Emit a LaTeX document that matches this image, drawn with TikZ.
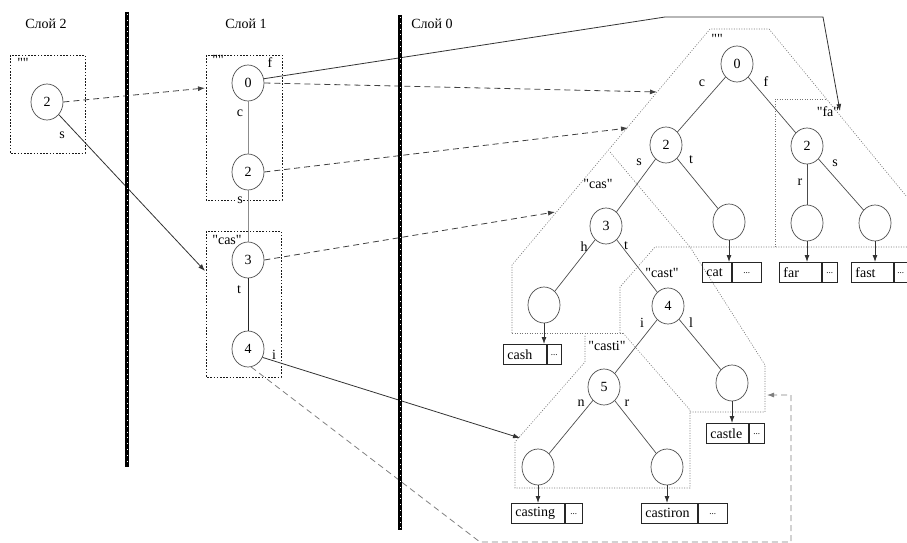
\documentclass[tikz,border=0pt]{standalone}
\usepackage{fontspec}
\setmainfont{Liberation Serif}[Ligatures=TeXOff]
\usetikzlibrary{arrows.meta,shapes.geometric}

\begin{document}
\begin{tikzpicture}[x=1pt,y=-1pt,
  every node/.style={font=\fontsize{14}{16}\selectfont},
  trie/.style={draw=black!70, line width=0.7pt, ellipse, minimum width=32pt,
               minimum height=36pt, inner sep=0pt},
  lbl/.style={inner sep=0pt},
  edge/.style={draw=black!70, line width=0.7pt},
  faint/.style={draw=black!45, line width=0.7pt},
  frame/.style={draw=black!90, line width=0.8pt, dash pattern=on 1.6pt off 1.6pt},
  region/.style={draw=black!55, line width=0.6pt, dash pattern=on 1pt off 1.5pt},
  ptr/.style={draw=black!75, line width=0.8pt, dash pattern=on 6pt off 4pt,
              -{Latex[length=7pt,width=5pt]}},
  back/.style={draw=black!50, line width=0.8pt, dash pattern=on 6pt off 4pt,
              -{Latex[length=7pt,width=5pt]}},
  link/.style={draw=black!80, line width=0.8pt, -{Latex[length=7pt,width=5pt]}},
  wcell/.style={draw=black!85, line width=0.8pt, minimum height=20pt, inner ysep=0pt,
                inner xsep=4pt, anchor=north west, align=left},
  dcell/.style={draw=black!85, line width=0.8pt, minimum height=20pt, inner sep=0pt,
                anchor=north west, font=\fontsize{9}{10}\selectfont},
  separator/.style={line width=4pt, black},
  sepdots/.style={line width=0.8pt, white, dash pattern=on 0.8pt off 5pt}
]
\useasboundingbox (0,0) rectangle (907,543);

% ---------- layer titles ----------
\node[lbl] (title2) at (46,24) {Слой 2};
\node[lbl] (title1) at (246,24) {Слой 1};
\node[lbl] (title0) at (432,24) {Слой 0};

% ---------- layer 2 ----------
\draw[frame] (10,55) rectangle (85,153);
\node[lbl] (q2) at (23,63) {""};
\node[trie] (a2) at (47,102) {2};
\node[lbl] (a2s) at (62,135) {s};

% ---------- layer 1 ----------
\draw[frame] (206,55) rectangle (282,200);
\draw[frame] (206,231) rectangle (281,377);
\node[trie] (b0) at (248,83) {0};
\node[trie] (b2) at (248,172) {2};
\node[trie] (b3) at (248,260) {3};
\node[trie] (b4) at (248,349) {4};
\draw[faint] (b0) -- (b2);
\draw[faint] (b2) -- (b3);
\draw[edge, draw=black!85] (b3) -- (b4);
\node[lbl] (q1) at (218,60) {""};
\node[lbl] (b0f) at (270,63) {f};
\node[lbl] (b0c) at (240,113) {c};
\node[lbl, fill=white, inner sep=0.5pt] (b2s) at (240,200) {s};
\node[lbl] (qcas1) at (227,240) {"cas"};
\node[lbl] (b3t) at (239,290) {t};
\node[lbl] (b4i) at (274,355) {i};

% ---------- layer 0: block outlines ----------
\draw[region] (512,333) -- (512,265) -- (710,29) -- (769,29) -- (907,197);
\draw[region] (610,152) -- (690,247) -- (765,365) -- (765,412) -- (690,412);
\draw[region] (512,333) -- (623,333);
\draw[region] (620,333) -- (620,287) -- (655,247) -- (907,247);
\draw[region] (623,333) -- (690,410) -- (690,488) -- (515,488) -- (515,442)
              -- (585,362) -- (585,335);
\draw[region] (775,247) -- (775,99) -- (826,99);

% ---------- layer 0: trie ----------
\node[trie] (r0) at (737,64) {0};
\node[trie] (c2) at (666,145) {2};
\node[trie] (f2) at (807,146) {2};
\node[trie] (s3) at (606,226) {3};
\node[trie] (tcat) at (729,222) {};
\node[trie] (tfar) at (807,223) {};
\node[trie] (tfast) at (875,223) {};
\node[trie] (hcash) at (544,305) {};
\node[trie] (t4) at (668,306) {4};
\node[trie] (i5) at (604,387) {5};
\node[trie] (lcastle) at (732,383) {};
\node[trie] (ncasting) at (538,467) {};
\node[trie] (rcastiron) at (667,467) {};

\draw[edge] (r0) -- (c2);
\draw[edge] (r0) -- (f2);
\draw[edge] (c2) -- (s3);
\draw[edge] (c2) -- (tcat);
\draw[edge] (f2) -- (tfar);
\draw[edge] (f2) -- (tfast);
\draw[edge] (s3) -- (hcash);
\draw[edge] (s3) -- (t4);
\draw[edge] (t4) -- (i5);
\draw[edge] (t4) -- (lcastle);
\draw[edge] (i5) -- (ncasting);
\draw[edge] (i5) -- (rcastiron);

% edge letters and block names
\node[lbl] (qroot) at (717,39) {""};
\node[lbl] (r0c) at (702,83) {c};
\node[lbl] (r0f) at (766,82) {f};
\node[lbl] (c2s) at (639,162) {s};
\node[lbl] (c2t) at (691,160) {t};
\node[lbl] (f2r) at (800,182) {r};
\node[lbl] (f2s) at (835,163) {s};
\node[lbl] (qfa) at (828,112) {"fa"};
\node[lbl] (qcas0) at (598,184) {"cas"};
\node[lbl] (s3h) at (584,247) {h};
\node[lbl] (s3t) at (626,246) {t};
\node[lbl] (qcast) at (662,273) {"cast"};
\node[lbl] (t4i) at (642,323) {i};
\node[lbl] (t4l) at (691,323) {l};
\node[lbl] (qcasti) at (607,346) {"casti"};
\node[lbl] (i5n) at (581,403) {n};
\node[lbl] (i5r) at (627,403) {r};

% ---------- leaf records ----------
\node[wcell, text width=21pt] (wcat) at (702,262) {cat};
\node[dcell, minimum width=29pt] (dcat) at (wcat.north east) {\raisebox{-3pt}{...}};
\node[wcell, text width=34pt] (wfar) at (779,262) {far};
\node[dcell, minimum width=15pt] (dfar) at (wfar.north east) {\raisebox{-3pt}{...}};
\node[wcell, text width=34pt] (wfast) at (851,262) {fast};
\node[dcell, minimum width=13pt] (dfast) at (wfast.north east) {\raisebox{-3pt}{...}};
\node[wcell, text width=35pt] (wcash) at (503,344) {cash};
\node[dcell, minimum width=14pt] (dcash) at (wcash.north east) {\raisebox{-3pt}{...}};
\node[wcell, text width=34pt] (wcastle) at (706,423) {castle};
\node[dcell, minimum width=15pt] (dcastle) at (wcastle.north east) {\raisebox{-3pt}{...}};
\node[wcell, text width=45pt] (wcasting) at (511,503) {casting};
\node[dcell, minimum width=17pt] (dcasting) at (wcasting.north east) {\raisebox{-3pt}{...}};
\node[wcell, text width=48pt] (wcastiron) at (641,503) {castiron};
\node[dcell, minimum width=29pt] (dcastiron) at (wcastiron.north east) {\raisebox{-3pt}{...}};

\draw[link] (tcat.south) -- (tcat.south |- wcat.north);
\draw[link] (tfar.south) -- (tfar.south |- wfar.north);
\draw[link] (tfast.south) -- (tfast.south |- wfast.north);
\draw[link] (hcash.south) -- (hcash.south |- wcash.north);
\draw[link] (lcastle.south) -- (lcastle.south |- wcastle.north);
\draw[link] (ncasting.south) -- (ncasting.south |- wcasting.north);
\draw[link] (rcastiron.south) -- (rcastiron.south |- wcastiron.north);

% ---------- pointers between layers ----------
\coordinate (in1top) at (205,88);
\coordinate (in1cas) at (205,271);
\coordinate (inroot) at (657,92);
\coordinate (inc) at (628,128);
\coordinate (incas) at (555,212);
\coordinate (incasti) at (520,438);
\coordinate (fabend) at (665,17);
\coordinate (facorner) at (823,17);
\coordinate (infa) at (840,111);
\coordinate (low1) at (480,542);
\coordinate (low2) at (791,542);
\coordinate (low3) at (791,395);
\coordinate (incastle) at (767,395);

\draw[ptr] (a2.east) -- (in1top);
\draw[link] (a2) -- (in1cas);
\draw[link] (b0.15) -- (fabend) -- (facorner) -- (infa);
\draw[ptr] (b0.east) -- (inroot);
\draw[ptr] (b2.east) -- (inc);
\draw[ptr] (b3.east) -- (incas);
\draw[link] (b4.-30) -- (incasti);
\draw[back] (b4.-80) -- (low1) -- (low2) -- (low3) -- (incastle);

% ---------- layer separators ----------
\draw[separator] (127,12) -- (127,467);
\draw[sepdots] (127,14) -- (127,465);
\draw[separator] (400,15) -- (400,530);
\draw[sepdots] (400,17) -- (400,528);
\end{tikzpicture}
\end{document}
